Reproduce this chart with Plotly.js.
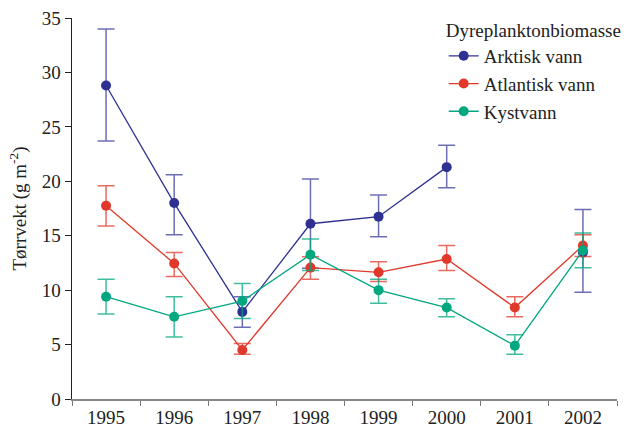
<!DOCTYPE html>
<html>
<head>
<meta charset="utf-8">
<script src="https://cdn.plot.ly/plotly-3.0.1.min.js"></script>
<style>html,body{margin:0;padding:0;background:#fff;}#chart{width:636px;height:435px;}</style>
</head>
<body>
<div id="chart"></div>
<script>
const years = ['1995','1996','1997','1998','1999','2000','2001','2002'];

const arktisk      = [28.8, 18.0, 8.0, 16.1, 16.75, 21.3, null, 13.45];
const arktiskPlus  = [5.2, 2.6, 1.4, 4.1, 2.0, 2.0, null, 3.95];
const arktiskMinus = [5.1, 2.9, 1.4, 4.1, 1.85, 1.9, null, 3.65];

const atlantisk      = [17.75, 12.45, 4.5, 12.07, 11.64, 12.86, 8.4, 14.1];
const atlantiskPlus  = [1.85, 1.0, 0.6, 1.0, 0.96, 1.24, 1.0, 1.0];
const atlantiskMinus = [1.85, 1.2, 0.4, 1.07, 0.84, 1.06, 0.85, 1.0];

const kyst      = [9.4, 7.55, 9.0, 13.26, 10.0, 8.4, 4.9, 13.65];
const kystPlus  = [1.6, 1.85, 1.6, 1.44, 1.0, 0.8, 1.0, 1.6];
const kystMinus = [1.6, 1.85, 1.6, 1.46, 1.2, 0.85, 0.8, 1.6];

const names = ['Arktisk vann', 'Atlantisk vann', 'Kystvann'];
const colors = ['#2e3192', '#e0392b', '#00a77f'];
const errColors = ['rgba(46,49,146,0.7)', 'rgba(224,57,43,0.75)', 'rgba(0,167,127,0.75)'];

function trace(y, plus, minus, i) {
  return {
    type: 'scatter', mode: 'lines+markers', x: years, y: y, name: names[i],
    connectgaps: false,
    line: {color: colors[i], width: 1.3},
    marker: {color: colors[i], size: 10},
    error_y: {type: 'data', symmetric: false, array: plus, arrayminus: minus,
              color: errColors[i], thickness: 1.5, width: 8.5}
  };
}

const data = [
  trace(arktisk, arktiskPlus, arktiskMinus, 0),
  trace(atlantisk, atlantiskPlus, atlantiskMinus, 1),
  trace(kyst, kystPlus, kystMinus, 2)
];

const fam = "'Liberation Serif', 'Times New Roman', serif";
const font = {family: fam, size: 19, color: '#222'};

const layout = {
  width: 636, height: 435,
  margin: {l: 72, r: 12, t: 17, b: 36},
  paper_bgcolor: '#fff', plot_bgcolor: '#fff',
  font: font,
  showlegend: true,
  legend: {
    x: 0.682, xanchor: 'left', y: 1.015, yanchor: 'top',
    bgcolor: 'rgba(0,0,0,0)',
    font: {family: fam, size: 19, color: '#222'},
    title: {text: 'Dyreplanktonbiomasse', font: {family: fam, size: 19, color: '#222'}},
    tracegroupgap: 0
  },
  xaxis: {
    type: 'category', range: [-0.5, 7.5],
    tickson: 'boundaries', ticks: 'outside', ticklen: 5, tickcolor: '#777',
    showline: true, linecolor: '#888', linewidth: 2,
    showgrid: false, zeroline: false,
    tickfont: {family: fam, size: 19, color: '#222'}
  },
  yaxis: {
    range: [0, 35], dtick: 5,
    ticks: 'outside', ticklen: 6, tickcolor: '#222',
    showline: true, linecolor: '#222', linewidth: 1.5,
    showgrid: false, zeroline: false,
    tickfont: {family: fam, size: 19, color: '#222'},
    title: {text: 'Tørrvekt (g m<sup>-2</sup>)', font: {family: fam, size: 19, color: '#222'}, standoff: 10}
  }
};

Plotly.newPlot('chart', data, layout, {displayModeBar: false, staticPlot: true});
</script>
</body>
</html>
